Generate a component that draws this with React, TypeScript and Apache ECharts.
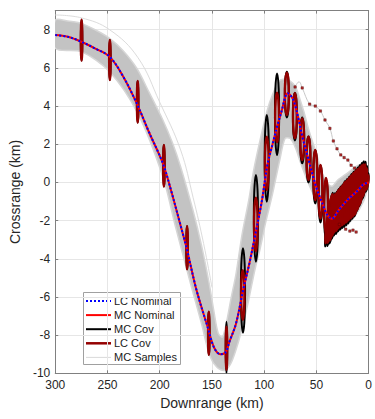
import React, { useEffect, useRef } from 'react';
import * as echarts from 'echarts';

// ---- Nominal trajectory (LC and MC nominal coincide) ----
const NOM_X = [300, 288, 275, 262, 248, 235, 222, 210, 197, 189, 181, 174, 165, 154, 148, 142, 137, 133, 127, 120, 114, 108, 102, 97, 92, 87.5, 83, 80, 77.6, 74, 71, 67, 63.5, 57.3, 50.5, 44.3, 39.6, 35, 30, 25, 20, 15, 10, 6, 3, 0];
const NOM_Y = [7.72, 7.63, 7.37, 7.02, 6.59, 5.55, 4.14, 2.6, 1.0, -0.45, -2.06, -3.5, -5.6, -7.6, -8.65, -9.0, -8.9, -8.3, -7.4, -5.6, -4.2, -2.6, -0.9, 0.9, 2.0, 2.95, 3.8, 4.45, 4.67, 4.5, 4.15, 3.3, 2.4, 1.15, -0.2, -1.1, -1.7, -1.9, -1.55, -1.2, -0.9, -0.65, -0.4, -0.15, -0.05, 0];

// ---- MC samples envelope (upper / lower) ----
const BAND_TOP_X = [300, 288, 275, 262, 248, 235, 222, 210, 197, 188, 180, 168, 160, 153, 148, 144, 140, 136, 132, 127, 121, 115, 110, 104, 97, 92, 86, 82, 76, 70, 66, 62, 57, 50, 45, 40, 35, 30, 20, 10, 5, 0];
const BAND_TOP_Y = [8.5, 8.45, 8.33, 8.0, 7.55, 6.9, 5.98, 4.7, 3.27, 2.1, 0.82, -1.5, -3.3, -5.2, -6.8, -7.9, -8.1, -7.3, -6.15, -4.8, -2.67, -1.0, 0.65, 2.2, 3.79, 4.6, 5.3, 5.4, 5.35, 5.0, 4.4, 3.7, 2.7, 1.5, 0.6, 0.0, -0.2, 0.1, 0.5, 0.9, 0.8, 0];
const BAND_BOT_X = [300, 275, 248, 221, 197, 185, 179, 170, 160, 152, 145, 138, 132, 126, 121, 115, 109, 104, 99, 92, 85, 80, 75, 70, 65, 58, 50, 45, 40, 35, 25, 15, 5, 0];
const BAND_BOT_Y = [7.03, 6.85, 5.8, 3.62, 0.3, -2.3, -3.54, -5.4, -7.4, -9.1, -9.7, -9.85, -9.5, -8.6, -7.6, -6.2, -4.6, -3.5, -2.2, -0.6, 1.2, 2.3, 2.3, 1.8, 1.0, 0.0, -1.0, -1.7, -2.3, -2.6, -2.4, -1.9, -1.0, 0];

// individual outlying MC sample lines
const OUT1_X = [300, 275, 248, 221, 200, 180, 168, 158, 150];
const OUT1_Y = [8.77, 8.62, 8.0, 6.55, 4.2, 1.7, -0.8, -3.2, -5.5];
const OUT2_X = [80, 74, 70.4, 66.7, 63.6, 56.5, 51.1, 46.2, 41.8, 37.1, 33.8, 30.3, 26.7, 23.5, 19.9, 16.8, 13.5, 10];
const OUT2_Y = [4.6, 4.9, 5.05, 5.27, 4.95, 4.1, 4.0, 3.74, 3.27, 2.83, 2.17, 1.76, 1.44, 1.3, 1.17, 0.9, 0.75, 0.6];

// sample points (markers)
const MK_X = [70.4, 63.6, 56.5, 51.1, 46.2, 41.8, 37.1, 33.8, 30.3, 26.7, 23.5, 19.9, 16.8, 13.5, 28, 22, 18, 15, 12];
const MK_Y = [5.0, 4.95, 4.1, 4.0, 3.74, 3.27, 2.83, 2.17, 1.76, 1.44, 1.3, 1.17, 0.9, 0.75, -2.2, -2.45, -2.55, -2.5, -2.6];

// ---- LC covariance ellipses: centre, semi-axes (km), tilt (deg) ----
const LC_X = [274.8, 247.7, 221.1, 196.0, 173.8, 153.0, 136.1, 120.5, 108.0, 97.5, 87.7, 78.3, 70.6, 63.6, 57.6, 51.1, 46.1, 40.8, 38, 36, 34, 32, 30, 28, 26, 24, 22, 20, 18, 16, 14, 12, 10, 8, 6, 4, 2];
const LC_Y = [7.45, 6.41, 4.22, 0.87, -3.42, -7.9, -8.69, -5.9, -2.2, 1.0, 3.4, 4.64, 3.49, 2.26, 1.26, 0.39, -0.49, -1.21, -1.9, -1.9, -1.8, -1.6, -1.45, -1.35, -1.2, -1.1, -1.0, -0.9, -0.8, -0.7, -0.6, -0.5, -0.4, -0.25, -0.1, 0, 0];
const LC_RX = [0.7, 0.7, 0.7, 0.7, 0.7, 0.7, 0.7, 1.6, 1.7, 1.8, 1.8, 1.9, 1.8, 1.8, 1.8, 1.8, 1.8, 1.8, 1.5, 1.5, 1.5, 1.5, 1.5, 1.5, 1.5, 1.5, 1.5, 1.5, 1.5, 1.5, 1.5, 1.5, 1.5, 1.5, 1.5, 1.5, 1.5];
const LC_RY = [1.07, 1.05, 1.09, 1.09, 1.13, 1.13, 1.13, 1.3, 1.4, 1.4, 1.3, 1.11, 1.18, 1.09, 1.13, 1.31, 1.4, 1.44, 1.3, 1.28, 1.25, 1.2, 1.18, 1.2, 1.22, 1.22, 1.25, 1.28, 1.3, 1.3, 1.3, 1.3, 1.3, 1.2, 1.05, 0.75, 0.4];
const LC_ROT = [0, 0, 0, 0, 0, 0, 0, 0, 0, 0, 0, 0, 0, 0, 0, 0, 0, 0, -8, -8, -8, -8, -8, -8, -8, -8, -8, -8, -8, -8, -8, -8, -8, -8, -8, -8, -8];

// ---- MC covariance ellipses ----
const MC_X = [274.8, 247.7, 221.1, 196.0, 173.8, 153.0, 136.1, 120.3, 107.9, 97.5, 87.7, 78.3, 70.6, 63.6, 57.6, 51.1, 46.1, 40.8, 38, 36, 34, 32, 30, 28, 26, 24, 22, 20, 18, 16, 14, 12, 10, 8, 6, 4, 2];
const MC_Y = [7.45, 6.41, 4.22, 0.87, -3.42, -7.9, -8.65, -5.66, -1.88, 1.26, 3.57, 4.6, 3.45, 2.2, 1.2, 0.3, -0.6, -1.4, -1.95, -1.95, -1.85, -1.65, -1.5, -1.4, -1.25, -1.15, -1.05, -0.95, -0.85, -0.75, -0.62, -0.5, -0.38, -0.2, -0.08, 0, 0];
const MC_RX = [0.7, 0.7, 0.7, 0.7, 0.7, 0.7, 0.7, 2.0, 2.0, 2.0, 2.0, 1.9, 1.9, 1.9, 1.9, 1.9, 1.9, 1.9, 1.6, 1.6, 1.6, 1.6, 1.6, 1.6, 1.6, 1.6, 1.6, 1.6, 1.6, 1.6, 1.6, 1.6, 1.6, 1.6, 1.6, 1.6, 1.6];
const MC_RY = [1.07, 1.05, 1.09, 1.09, 1.13, 1.13, 1.35, 2.21, 2.27, 2.27, 2.14, 1.2, 1.25, 1.2, 1.2, 1.4, 1.5, 1.55, 1.42, 1.4, 1.37, 1.32, 1.3, 1.32, 1.34, 1.34, 1.37, 1.4, 1.42, 1.42, 1.42, 1.42, 1.42, 1.32, 1.17, 0.87, 0.5];
const MC_ROT = [0, 0, 0, 0, 0, 0, 0, 0, 0, 0, 0, 0, 0, 0, 0, 0, 0, 0, -8, -8, -8, -8, -8, -8, -8, -8, -8, -8, -8, -8, -8, -8, -8, -8, -8, -8, -8];

const X_MIN = 0, X_MAX = 300, X_STEP = 50;
const Y_MIN = -10, Y_MAX = 9, Y_STEP = 2;

const FONT = 'Liberation Sans, Arial, Helvetica, sans-serif';
const AXIS_COLOR = '#808080';
const TEXT_COLOR = '#262626';

const zip = (xs: number[], ys: number[]) => xs.map((x, i) => [x, ys[i]]);

export default function App() {
  const ref = useRef<HTMLDivElement>(null);
  useEffect(() => {
    if (!ref.current) return;
    const chart = echarts.init(ref.current, undefined, { renderer: 'svg' });

    const bandPts = [...zip(BAND_TOP_X, BAND_TOP_Y), ...zip(BAND_BOT_X, BAND_BOT_Y).reverse()];
    const ellData = (xs: number[], ys: number[], rx: number[], ry: number[], rot: number[]) =>
      xs.map((x, i) => [x, ys[i], rx[i], ry[i], rot[i]]);
    const ellRender = (color: string, lw: number) => (params: any, api: any) => {
      const c = api.coord([api.value(0), api.value(1)]);
      const s = api.size([api.value(2), api.value(3)]);
      return {
        type: 'ellipse',
        x: c[0],
        y: c[1],
        rotation: (api.value(4) * Math.PI) / 180,
        shape: { cx: 0, cy: 0, rx: Math.abs(s[0]), ry: Math.abs(s[1]) },
        style: { fill: 'none', stroke: color, lineWidth: lw },
      };
    };

    const legendItems = [
      { name: 'LC Nominal', color: '#0000ff', width: 2, dash: [2, 2] },
      { name: 'MC Nominal', color: '#ff0000', width: 2, dash: null },
      { name: 'MC Cov', color: '#000000', width: 2, dash: null },
      { name: 'LC Cov', color: '#940000', width: 2.5, dash: null },
      { name: 'MC Samples', color: '#d9d9d9', width: 1, dash: null },
    ];
    const lx = 83.5, ly = 292.5;
    const legendChildren: any[] = [
      { type: 'rect', shape: { x: lx, y: ly, width: 97, height: 72 }, style: { fill: '#ffffff', stroke: '#a0a0a0', lineWidth: 1 } },
    ];
    legendItems.forEach((it, i) => {
      const yy = 301 + i * 14.1;
      legendChildren.push({
        type: 'line',
        shape: { x1: 86, y1: yy, x2: 111, y2: yy },
        style: { stroke: it.color, lineWidth: it.width, lineDash: it.dash || undefined },
      });
      legendChildren.push({
        type: 'text',
        x: 114,
        y: yy,
        style: { text: it.name, fill: '#1a1a1a', font: `11px ${FONT}`, verticalAlign: 'middle', align: 'left' },
      });
    });

    const boxAxis = {
      axisLine: { show: true, onZero: false, lineStyle: { color: AXIS_COLOR, width: 1 } },
      axisTick: { show: true, inside: true, length: 3, lineStyle: { color: AXIS_COLOR } },
    };

    const option: any = {
      animation: false,
      backgroundColor: '#ffffff',
      grid: { left: 52, right: 2.3, top: 10.6, bottom: 45.7, containLabel: false },
      xAxis: [
        {
          type: 'value', min: X_MIN, max: X_MAX, interval: X_STEP, inverse: true,
          name: 'Downrange (km)', nameLocation: 'middle', nameGap: 22,
          nameTextStyle: { fontSize: 14, color: TEXT_COLOR, fontFamily: FONT },
          ...boxAxis,
          axisLabel: { fontSize: 12, color: TEXT_COLOR, fontFamily: FONT, margin: 6 },
          splitLine: { show: true, lineStyle: { color: '#e6e6e6', width: 1 } },
        },
        {
          type: 'value', min: X_MIN, max: X_MAX, interval: X_STEP, inverse: true, position: 'top',
          ...boxAxis,
          axisLabel: { show: false }, splitLine: { show: false },
        },
      ],
      yAxis: [
        {
          type: 'value', min: Y_MIN, max: Y_MAX, interval: Y_STEP,
          name: 'Crossrange (km)', nameLocation: 'middle', nameGap: 24,
          nameTextStyle: { fontSize: 14, color: TEXT_COLOR, fontFamily: FONT },
          ...boxAxis,
          axisLabel: { fontSize: 12, color: TEXT_COLOR, fontFamily: FONT, margin: 5, formatter: (v: number) => (v === Y_MAX ? '' : String(v)) },
          splitLine: { show: true, lineStyle: { color: '#e6e6e6', width: 1 } },
        },
        {
          type: 'value', min: Y_MIN, max: Y_MAX, interval: Y_STEP, position: 'right',
          ...boxAxis,
          axisLabel: { show: false }, splitLine: { show: false },
        },
      ],
      series: [
        {
          name: 'MC Samples', type: 'custom', z: 1, clip: true,
          data: bandPts, encode: { x: 0, y: 1 },
          renderItem: (params: any, api: any) => {
            if (params.dataIndex !== 0) return null;
            const pts = bandPts.map((p) => api.coord(p));
            return { type: 'polygon', shape: { points: pts, smooth: 0.3 }, style: { fill: '#c3c3c3', stroke: '#d6d6d6', lineWidth: 1.5 } };
          },
        },
        {
          name: 'MC Samples', type: 'line', z: 2, data: zip(OUT1_X, OUT1_Y), symbol: 'none', smooth: 0.4,
          lineStyle: { color: '#dcdcdc', width: 1 },
        },
        {
          name: 'MC Samples', type: 'line', z: 2, data: zip(OUT2_X, OUT2_Y), symbol: 'none', smooth: 0.4,
          lineStyle: { color: '#c8c8c8', width: 1 },
        },
        {
          name: 'MC Cov', type: 'custom', z: 3, clip: true, encode: { x: 0, y: 1 },
          data: ellData(MC_X, MC_Y, MC_RX, MC_RY, MC_ROT), renderItem: ellRender('#000000', 2),
        },
        {
          name: 'LC Cov', type: 'custom', z: 4, clip: true, encode: { x: 0, y: 1 },
          data: ellData(LC_X, LC_Y, LC_RX, LC_RY, LC_ROT), renderItem: ellRender('#940000', 2.4),
        },
        {
          name: 'MC Nominal', type: 'line', z: 5, data: zip(NOM_X, NOM_Y), symbol: 'none', smooth: 0.35,
          lineStyle: { color: '#ff0000', width: 2 },
        },
        {
          name: 'LC Nominal', type: 'line', z: 6, data: zip(NOM_X, NOM_Y), symbol: 'none', smooth: 0.35,
          lineStyle: { color: '#0000ff', width: 2, type: [2, 2] },
        },
        {
          name: 'Samples pts', type: 'scatter', z: 7, data: zip(MK_X, MK_Y), symbol: 'rect', symbolSize: 2.4,
          itemStyle: { color: '#b00000', borderColor: '#400000', borderWidth: 0.5 },
        },
      ],
      graphic: [{ type: 'group', z: 100, children: legendChildren }],
    };
    chart.setOption(option);
    return () => chart.dispose();
  }, []);
  return <div ref={ref} style={{ position: 'fixed', left: 0, top: 0, width: 375, height: 419, background: '#fff' }} />;
}
